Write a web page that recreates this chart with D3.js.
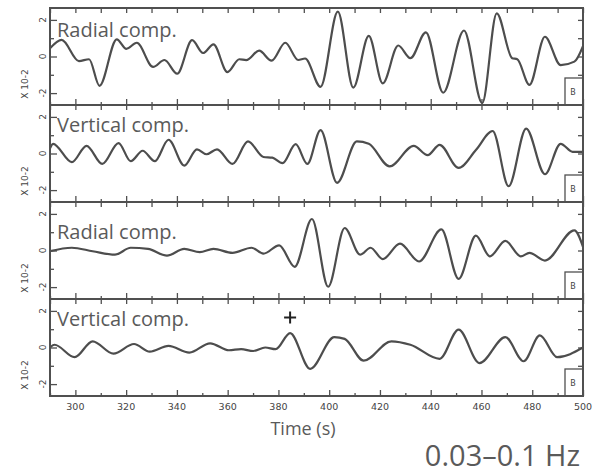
<!DOCTYPE html>
<html><head><meta charset="utf-8">
<script src="https://cdn.jsdelivr.net/npm/d3@7"></script>
<style>body{margin:0;background:#fff}svg{display:block}</style>
</head><body>
<svg id="c" width="608" height="476"></svg>
<script>
// ---- data ----
const panelTitles = ["Radial comp.", "Vertical comp.", "Radial comp.", "Vertical comp."];
const radialA = [[290,0.45],[294.6,0.91],[301.4,-0.25],[305.4,-0.15],[309.5,-1.6],[316.3,0.94],[320.1,0.42],[324.2,0.75],[330.6,-0.57],[335.1,-0.19],[340.1,-0.94],[346.0,0.89],[350.3,0.19],[354.4,0.66],[359.9,-0.85],[364.6,-0.15],[367.3,-0.2],[372.4,0.32],[377.3,-0.23],[382.7,0.75],[387.8,-0.19],[390.5,-0.11],[396.6,-1.66],[403.4,2.45],[409.5,-1.7],[415.6,1.13],[421.1,-1.47],[427.2,0.6],[432.0,-0.09],[438.1,1.32],[444.9,-1.98],[453.1,1.42],[460.3,-2.55],[466.0,2.36],[472.1,-0.09],[474.1,-0.15],[478.9,-1.55],[485.0,1.08],[491.2,-0.47],[496.6,-0.28],[500,0.57]];
const verticalA = [[290,0.28],[291.2,0.53],[298.6,-0.47],[304.4,0.42],[310.6,-0.57],[317.0,0.57],[321.8,-0.42],[326.5,0.15],[331.3,-0.42],[336.7,0.75],[342.9,-0.66],[347.9,0.23],[351.7,-0.04],[355.8,0.23],[361.9,-0.57],[368.0,0.66],[374.1,-0.19],[377.6,-0.23],[381.6,-0.53],[386.8,0.51],[391.4,-0.57],[396.6,1.28],[403.1,-1.6],[410.9,0.66],[415.6,0.53],[423.8,-0.7],[433.3,0.42],[438.8,-0.09],[443.5,0.47],[451.0,-0.79],[457.8,0.19],[464.4,1.23],[470.7,-1.79],[477.6,1.36],[485.0,-1.13],[491.2,0.53],[495.9,0.09],[500,0.09]];
const radialB = [[290,-0.04],[298.6,0.15],[306.8,-0.04],[315.6,-0.23],[321.8,0.15],[328.6,0.09],[336.1,-0.28],[342.9,0.09],[349.0,-0.09],[354.4,0.09],[361.9,-0.13],[369.4,0.15],[374.1,-0.17],[380.3,0.28],[386.4,-0.89],[393.2,1.72],[399.6,-1.98],[406.1,1.23],[412.2,-0.23],[416.3,0.15],[421.1,-0.47],[427.9,0.38],[435.4,-0.6],[444.2,1.15],[451.0,-1.55],[457.8,0.81],[463.3,-0.32],[469.4,0.53],[475.5,-0.32],[478.9,-0.13],[485.0,-0.55],[496.6,1.1],[500,0.2]];
const verticalB = [[290,0],[291.8,0.15],[299.7,-0.53],[306.8,0.34],[315.0,-0.34],[323.1,0.19],[329.3,-0.23],[336.7,0.09],[344.9,-0.28],[353.1,0.23],[360.5,-0.15],[365.3,-0.09],[370.1,-0.19],[374.8,0],[378.9,-0.09],[384.6,0.79],[392.5,-1.17],[402.0,0.57],[406.1,0.47],[413.6,-0.72],[424.5,0.34],[432.0,0.15],[443.5,-0.62],[451.0,0.98],[459.2,-0.85],[469.4,0.57],[476.6,-0.75],[483.0,0.66],[489.8,-0.53],[500,0]];
const traces = [radialA, verticalA, radialB, verticalB];
const xTicksMajor = [300,320,340,360,380,400,420,440,460,480,500];
const xTicksMinor = [290,310,330,350,370,390,410,430,450,470,490];
const yTicksMajor = [-2,0,2];
const yTicksMinor = [-1,1];
const yLabel = "X 10-2";
const xTitle = "Time (s)";
const bandLabel = "0.03–0.1 Hz";
const boxGlyph = "B";
const marker = {panel:3, t:384.6, v:1.64};

// ---- layout ----
const L = 50, R = 583, T = 8, PH = 97;
const ink = "#505050";
const svg = d3.select("#c");
const x = d3.scaleLinear().domain([290, 500]).range([L, R]);

svg.append("defs").append("clipPath").attr("id","clip")
  .append("rect").attr("x",L).attr("y",T).attr("width",R-L).attr("height",PH*4);

traces.forEach((data, i) => {
  const top = T + i*PH;
  const y = d3.scaleLinear().domain([-2.65, 2.65]).range([top+PH, top]);
  const g = svg.append("g");

  const styleAxis = a => { a.select(".domain").remove(); a.selectAll("line").attr("stroke", ink).attr("stroke-width",1.3); a.selectAll("text").remove(); };
  g.append("g").attr("transform",`translate(0,${top+PH})`).call(d3.axisBottom(x).tickValues(xTicksMajor).tickSize(-6)).call(styleAxis);
  g.append("g").attr("transform",`translate(0,${top+PH})`).call(d3.axisBottom(x).tickValues(xTicksMinor).tickSize(-3)).call(styleAxis);
  g.append("g").attr("transform",`translate(0,${top})`).call(d3.axisTop(x).tickValues(xTicksMajor.concat(xTicksMinor)).tickSize(-5)).call(styleAxis);
  g.append("g").attr("transform",`translate(${L},0)`).call(d3.axisLeft(y).tickValues(yTicksMajor).tickSize(-7)).call(styleAxis);
  g.append("g").attr("transform",`translate(${L},0)`).call(d3.axisLeft(y).tickValues(yTicksMinor).tickSize(-4)).call(styleAxis);
  g.append("g").attr("transform",`translate(${R},0)`).call(d3.axisRight(y).tickValues(yTicksMajor.concat(yTicksMinor)).tickSize(-5)).call(styleAxis);

  yTicksMajor.forEach(v => {
    g.append("text").attr("transform",`translate(${L-4},${y(v)}) rotate(-90)`)
      .attr("text-anchor","middle").attr("font-family","DejaVu Sans").attr("font-size",9)
      .attr("fill","#444").text(String(v));
  });
  g.append("text").attr("transform",`translate(${L-22},${top+76}) rotate(-90)`)
    .attr("text-anchor","middle").attr("font-family","DejaVu Sans").attr("font-size",9)
    .attr("fill","#444").text(yLabel);

  g.append("path").datum(data).attr("clip-path","url(#clip)")
    .attr("fill","none").attr("stroke","#4d4d4d").attr("stroke-width",2.2)
    .attr("stroke-linejoin","round")
    .attr("d", d3.line().x(d=>x(d[0])).y(d=>y(d[1])).curve(d3.curveMonotoneX));

  g.append("rect").attr("x",R-18).attr("y",top+PH-27).attr("width",18).attr("height",27)
    .attr("fill","#fff").attr("stroke",ink).attr("stroke-width",1.3);
  g.append("text").attr("x",R-10).attr("y",top+PH-10).attr("text-anchor","middle")
    .attr("font-family","DejaVu Sans").attr("font-size",8).attr("fill","#444").text(boxGlyph);

  g.append("text").attr("x",57).attr("y",top+[29,27,37,27][i])
    .attr("font-family","Open Sans").attr("font-size",20).attr("fill","#5a5a5a").text(panelTitles[i]);

  if (marker.panel === i) {
    const mx = x(marker.t), my = y(marker.v);
    g.append("path").attr("d",`M${mx-6},${my}H${mx+6}M${mx},${my-6}V${my+6}`)
      .attr("stroke","#222").attr("stroke-width",2);
  }
});

svg.append("rect").attr("x",L).attr("y",T).attr("width",R-L).attr("height",PH*4)
  .attr("fill","none").attr("stroke",ink).attr("stroke-width",2);
[1,2,3].forEach(k => svg.append("line").attr("x1",L).attr("x2",R)
  .attr("y1",T+k*PH).attr("y2",T+k*PH).attr("stroke",ink).attr("stroke-width",2));

svg.append("g").selectAll("text").data(xTicksMajor).join("text")
  .attr("x",d=>x(d)).attr("y",T+PH*4+14).attr("text-anchor","middle")
  .attr("font-family","DejaVu Sans").attr("font-size",9.5).attr("fill","#444").text(d=>d);

svg.append("text").attr("x",303).attr("y",435).attr("text-anchor","middle")
  .attr("font-family","Open Sans").attr("font-size",18).attr("fill","#5a5a5a").text(xTitle);
svg.append("text").attr("x",580).attr("y",466).attr("text-anchor","end")
  .attr("font-family","Open Sans").attr("font-size",29).attr("fill","#5a5a5a").text(bandLabel);
</script>
</body></html>
